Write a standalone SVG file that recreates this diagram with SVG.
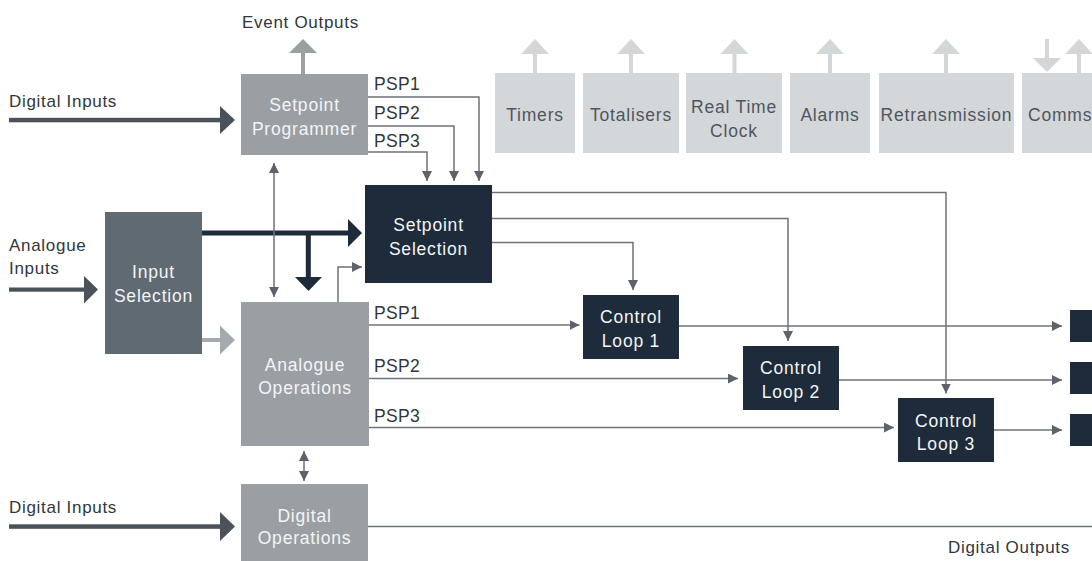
<svg xmlns="http://www.w3.org/2000/svg" width="1092" height="561" viewBox="0 0 1092 561">
  <style>
    text { font-family: "Liberation Sans", Arial, sans-serif; }
    .bl { font-size: 17.5px; letter-spacing: 0.8px; text-anchor: middle; }
    .w { fill: #f4f5f6; }
    .g { fill: #4f565d; }
    .out { font-size: 17px; letter-spacing: 0.7px; fill: #2f3740; }
    .psp { font-size: 17.5px; letter-spacing: 0.3px; fill: #2f3740; }
    .light { fill: #d4d7da; }
    .mid { fill: #9a9fa4; }
    .navy { fill: #1e2b3a; }
    .thick { fill: #4b5259; }
    .conn path { fill: none; stroke: #6e7378; stroke-width: 1.5; }
  </style>
  <defs>
    <marker id="ah" markerUnits="userSpaceOnUse" markerWidth="10" markerHeight="10" viewBox="0 0 9 9" refX="9" refY="4.5" orient="auto-start-reverse">
      <path d="M0,0 L9,4.5 L0,9 z" fill="#5d636a"/>
    </marker>
  </defs>
  <rect width="1092" height="561" fill="#ffffff"/>

  <!-- outside labels -->
  <text class="out" x="242" y="27.7">Event Outputs</text>
  <text class="out" x="9" y="107">Digital Inputs</text>
  <text class="out" x="9" y="251">Analogue</text>
  <text class="out" x="9" y="274">Inputs</text>
  <text class="out" x="9" y="513">Digital Inputs</text>
  <text class="out" x="948" y="553">Digital Outputs</text>

  <!-- light output blocks with arrows -->
  <g id="timers">
    <rect class="light" x="495" y="73" width="80" height="80"/>
    <rect class="light" x="533" y="53" width="4" height="20"/>
    <polygon class="light" points="521,54 535,39 549,54"/>
    <text class="bl g" x="535" y="121">Timers</text>
  </g>
  <g id="totalisers">
    <rect class="light" x="583" y="73" width="96" height="80"/>
    <rect class="light" x="629" y="53" width="4" height="20"/>
    <polygon class="light" points="617,54 631,39 645,54"/>
    <text class="bl g" x="631" y="121">Totalisers</text>
  </g>
  <g id="rtc">
    <rect class="light" x="686" y="73" width="96" height="80"/>
    <rect class="light" x="732.5" y="53" width="4" height="20"/>
    <polygon class="light" points="720.5,54 734.5,39 748.5,54"/>
    <text class="bl g" x="734" y="113">Real Time</text>
    <text class="bl g" x="734" y="136.5">Clock</text>
  </g>
  <g id="alarms">
    <rect class="light" x="790" y="73" width="80" height="80"/>
    <rect class="light" x="828" y="53" width="4" height="20"/>
    <polygon class="light" points="816,54 830,39 844,54"/>
    <text class="bl g" x="830" y="121">Alarms</text>
  </g>
  <g id="retransmission">
    <rect class="light" x="879" y="73" width="135" height="80"/>
    <rect class="light" x="944" y="53" width="4" height="20"/>
    <polygon class="light" points="932,54 946,39 960,54"/>
    <text class="bl g" x="946.5" y="121">Retransmission</text>
  </g>
  <g id="comms">
    <rect class="light" x="1022" y="73" width="80" height="80"/>
    <rect class="light" x="1045" y="39" width="4" height="20"/>
    <polygon class="light" points="1033,58 1061,58 1047,72"/>
    <rect class="light" x="1077" y="53" width="4" height="20"/>
    <polygon class="light" points="1065,54 1079,39 1093,54"/>
    <text class="bl g" x="1028" y="121" style="text-anchor:start">Comms</text>
  </g>

  <!-- main nodes -->
  <g id="setpoint-programmer">
    <rect class="mid" x="301" y="52" width="4" height="22"/>
    <polygon class="mid" points="289,53 303,39 317,53"/>
    <rect class="mid" x="241" y="74" width="127" height="81"/>
    <text class="bl w" x="304.5" y="111">Setpoint</text>
    <text class="bl w" x="304.5" y="135">Programmer</text>
  </g>
  <g id="input-selection">
    <rect fill="#5f6a73" x="105" y="212" width="97" height="142"/>
    <text class="bl w" x="153.5" y="278">Input</text>
    <text class="bl w" x="153.5" y="302">Selection</text>
  </g>
  <g id="setpoint-selection">
    <rect class="navy" x="365" y="185" width="127" height="98"/>
    <text class="bl w" x="428.5" y="231">Setpoint</text>
    <text class="bl w" x="428.5" y="255">Selection</text>
  </g>
  <g id="analogue-operations">
    <rect class="mid" x="241" y="302" width="128" height="144"/>
    <text class="bl w" x="305" y="371">Analogue</text>
    <text class="bl w" x="305" y="394">Operations</text>
  </g>
  <g id="digital-operations">
    <rect class="mid" x="241" y="484" width="127" height="80"/>
    <text class="bl w" x="304.5" y="521.5">Digital</text>
    <text class="bl w" x="304.5" y="544">Operations</text>
  </g>
  <g id="control-loop-1">
    <rect class="navy" x="583" y="295" width="96" height="64"/>
    <text class="bl w" x="631" y="323">Control</text>
    <text class="bl w" x="631" y="347">Loop 1</text>
  </g>
  <g id="control-loop-2">
    <rect class="navy" x="743" y="346" width="96" height="64"/>
    <text class="bl w" x="791" y="374">Control</text>
    <text class="bl w" x="791" y="398">Loop 2</text>
  </g>
  <g id="control-loop-3">
    <rect class="navy" x="898" y="398" width="96" height="64"/>
    <text class="bl w" x="946" y="426.5">Control</text>
    <text class="bl w" x="946" y="450">Loop 3</text>
  </g>
  <g id="outputs">
    <rect class="navy" x="1070" y="310" width="30" height="32"/>
    <rect class="navy" x="1070" y="362" width="30" height="32"/>
    <rect class="navy" x="1070" y="414" width="30" height="32"/>
  </g>

  <!-- PSP labels -->
  <text class="psp" x="374" y="90">PSP1</text>
  <text class="psp" x="374" y="118.5">PSP2</text>
  <text class="psp" x="374" y="146.5">PSP3</text>
  <text class="psp" x="374" y="318.7">PSP1</text>
  <text class="psp" x="374" y="371.7">PSP2</text>
  <text class="psp" x="374" y="421.7">PSP3</text>

  <!-- connectors -->
  <g id="connectors">
    <g id="thick-arrows">
      <rect class="thick" x="9" y="117.8" width="212" height="4.5"/>
      <polygon class="thick" points="220,106 235,120 220,134"/>
      <rect class="thick" x="9" y="287.5" width="77" height="4.2"/>
      <polygon class="thick" points="84,276 98,289.6 84,303.5"/>
      <rect class="thick" x="9" y="524.3" width="212" height="4.5"/>
      <polygon class="thick" points="220,512 235,526.5 220,541"/>
      <rect class="navy" x="202" y="230.5" width="147" height="5"/>
      <polygon class="navy" points="348,219 362,233 348,247"/>
      <rect class="navy" x="305.8" y="233" width="5" height="45"/>
      <polygon class="navy" points="295,277 322,277 308.5,291"/>
      <rect fill="#a5aaae" x="202" y="338" width="19" height="4"/>
      <polygon fill="#a5aaae" points="220,325.5 235,340 220,354.5"/>
    </g>
    <g class="conn">
      <path d="M368,97 H479 V181" marker-end="url(#ah)"/>
      <path d="M368,126 H454 V181" marker-end="url(#ah)"/>
      <path d="M368,152 H427 V181" marker-end="url(#ah)"/>
      <path d="M274,163 V297" marker-start="url(#ah)" marker-end="url(#ah)"/>
      <path d="M338,302 V267 H362" marker-end="url(#ah)"/>
      <path d="M369,325 H579.5" marker-end="url(#ah)"/>
      <path d="M369,378.5 H738" marker-end="url(#ah)"/>
      <path d="M369,427.5 H894" marker-end="url(#ah)"/>
      <path d="M492,192.5 H946 V393.5" marker-end="url(#ah)"/>
      <path d="M492,218.5 H788 V341" marker-end="url(#ah)"/>
      <path d="M492,242.5 H633 V290" marker-end="url(#ah)"/>
      <path d="M679,326 H1062" marker-end="url(#ah)"/>
      <path d="M839,380 H1062" marker-end="url(#ah)"/>
      <path d="M994,430 H1062" marker-end="url(#ah)"/>
      <path d="M304,451 V481" marker-start="url(#ah)" marker-end="url(#ah)"/>
      <path d="M368,526.5 H1092"/>
    </g>
  </g>
</svg>
